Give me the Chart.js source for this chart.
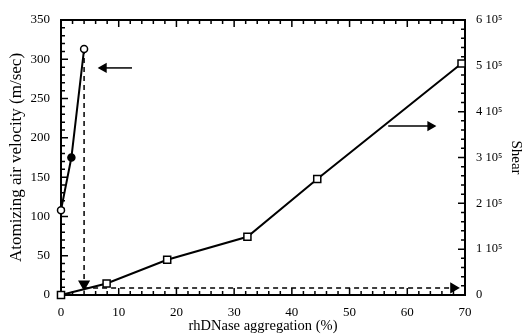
<!DOCTYPE html>
<html><head><meta charset="utf-8">
<script src="https://cdn.jsdelivr.net/npm/chart.js@4/dist/chart.umd.min.js"></script>
<style>html,body{margin:0;padding:0;background:#fff}#c{display:block}</style>
</head><body>
<canvas id="c" width="529" height="335"></canvas>
<script>
// ---- data ----
const velocityX = [0, 1.8, 4.0];            // rhDNase aggregation (%)
const velocityY = [108, 175, 313];          // atomizing air velocity (m/sec)
const velocityFilled = [false, true, false];
const shearX = [0, 7.9, 18.4, 32.3, 44.4, 69.4];
const shearY = [0, 25000, 77000, 127000, 253000, 505000];
const xTicks = [0, 10, 20, 30, 40, 50, 60, 70];
const yTicks = [0, 50, 100, 150, 200, 250, 300, 350];
const shearTickLabels = ['0', '1 10\u2075', '2 10\u2075', '3 10\u2075', '4 10\u2075', '5 10\u2075', '6 10\u2075'];
// annotation guides (data units on the left/x axes)
const dashDownX = [4, 4];   const dashDownY = [313, 14];
const dashRightX = [4, 68]; const dashRightY = [9, 9];
const arrowLeftX = [12.3, 7.4]; const arrowLeftY = [289, 289];
const arrowRightX = [56.7, 64.0]; const arrowRightY = [215, 215];

const F = 'Liberation Serif, Times New Roman, serif';
const toPts = (xs, ys) => xs.map((x, i) => ({x, y: ys[i]}));

const insideTicks = {
  id: 'insideTicks',
  beforeDatasetsDraw(chart) {
    const {ctx, chartArea: a, scales} = chart;
    ctx.save();
    ctx.strokeStyle = '#000';
    ctx.lineWidth = 1.5;
    ctx.beginPath();
    for (let v = 0; v <= 70; v += 2) {
      const px = scales.x.getPixelForValue(v);
      const L = v % 10 === 0 ? 7 : 4;
      ctx.moveTo(px, a.bottom); ctx.lineTo(px, a.bottom - L);
      ctx.moveTo(px, a.top); ctx.lineTo(px, a.top + L);
    }
    for (let v = 0; v <= 350; v += 10) {
      const py = scales.y.getPixelForValue(v);
      const L = v % 50 === 0 ? 7 : 4;
      ctx.moveTo(a.left, py); ctx.lineTo(a.left + L, py);
    }
    for (let v = 0; v <= 600000; v += 20000) {
      const py = scales.y2.getPixelForValue(v);
      const L = v % 100000 === 0 ? 7 : 4;
      ctx.moveTo(a.right, py); ctx.lineTo(a.right - L, py);
    }
    ctx.stroke();
    ctx.lineWidth = 2;
    ctx.strokeRect(a.left, a.top, a.right - a.left, a.bottom - a.top);
    ctx.restore();
  }
};

new Chart(document.getElementById('c'), {
  type: 'scatter',
  data: {
    datasets: [
      { data: toPts(velocityX, velocityY), yAxisID: 'y', showLine: true, clip: false,
        borderColor: '#000', borderWidth: 2, pointStyle: 'circle', pointRadius: 3.5,
        pointBorderWidth: 1.5, pointBorderColor: '#000',
        pointBackgroundColor: velocityFilled.map(f => f ? '#000' : '#fff') },
      { data: toPts(shearX, shearY), yAxisID: 'y2', showLine: true, clip: false,
        borderColor: '#000', borderWidth: 2, pointStyle: 'rect', pointRadius: 5,
        pointBorderWidth: 1.5, pointBorderColor: '#000', pointBackgroundColor: '#fff' },
      { data: toPts(dashDownX, dashDownY), yAxisID: 'y', showLine: true, clip: false,
        borderColor: '#000', borderWidth: 1.5, borderDash: [5, 4],
        pointStyle: 'triangle', pointRadius: [0, 5.5], pointRotation: 180,
        pointBackgroundColor: '#000', pointBorderColor: '#000' },
      { data: toPts(dashRightX, dashRightY), yAxisID: 'y', showLine: true, clip: false,
        borderColor: '#000', borderWidth: 1.5, borderDash: [5, 4],
        pointStyle: 'triangle', pointRadius: [0, 5], pointRotation: 90,
        pointBackgroundColor: '#000', pointBorderColor: '#000' },
      { data: toPts(arrowLeftX, arrowLeftY), yAxisID: 'y', showLine: true, clip: false,
        borderColor: '#000', borderWidth: 1.5,
        pointStyle: 'triangle', pointRadius: [0, 4.5], pointRotation: 270,
        pointBackgroundColor: '#000', pointBorderColor: '#000' },
      { data: toPts(arrowRightX, arrowRightY), yAxisID: 'y', showLine: true, clip: false,
        borderColor: '#000', borderWidth: 1.5,
        pointStyle: 'triangle', pointRadius: [0, 4.5], pointRotation: 90,
        pointBackgroundColor: '#000', pointBorderColor: '#000' }
    ]
  },
  options: {
    responsive: false, animation: false,
    layout: { padding: { top: 20, left: 0, right: 0, bottom: 0 } },
    plugins: { legend: { display: false }, tooltip: { enabled: false } },
    scales: {
      x: { type: 'linear', min: 0, max: 70,
        afterBuildTicks: s => { s.ticks = xTicks.map(v => ({value: v})); },
        ticks: { font: { family: F, size: 13 }, color: '#000', padding: 10, maxRotation: 0 },
        grid: { display: false, drawTicks: false }, border: { display: false },
        title: { display: true, text: 'rhDNase aggregation (%)', color: '#000',
          font: { family: F, size: 14.5 }, padding: { top: 0, bottom: 0 } },
        afterFit: s => { s.height = 40; } },
      y: { position: 'left', min: 0, max: 350,
        afterBuildTicks: s => { s.ticks = yTicks.map(v => ({value: v})); },
        ticks: { font: { family: F, size: 13 }, color: '#000', padding: 11 },
        grid: { display: false, drawTicks: false }, border: { display: false },
        title: { display: true, text: 'Atomizing air velocity (m/sec)', color: '#000',
          font: { family: F, size: 17 }, padding: { top: 6, bottom: 0 } },
        afterFit: s => { s.width = 61; } },
      y2: { position: 'right', min: 0, max: 600000,
        afterBuildTicks: s => { s.ticks = shearTickLabels.map((t, i) => ({value: i * 100000})); },
        ticks: { font: { family: F, size: 12.5 }, color: '#000', padding: 11,
          callback: (v, i) => shearTickLabels[i] },
        grid: { display: false, drawTicks: false }, border: { display: false },
        title: { display: true, text: 'Shear', color: '#000',
          font: { family: F, size: 15 }, padding: { top: 4, bottom: 0 } },
        afterFit: s => { s.width = 64; } }
    }
  },
  plugins: [insideTicks]
});
</script>
</body></html>
